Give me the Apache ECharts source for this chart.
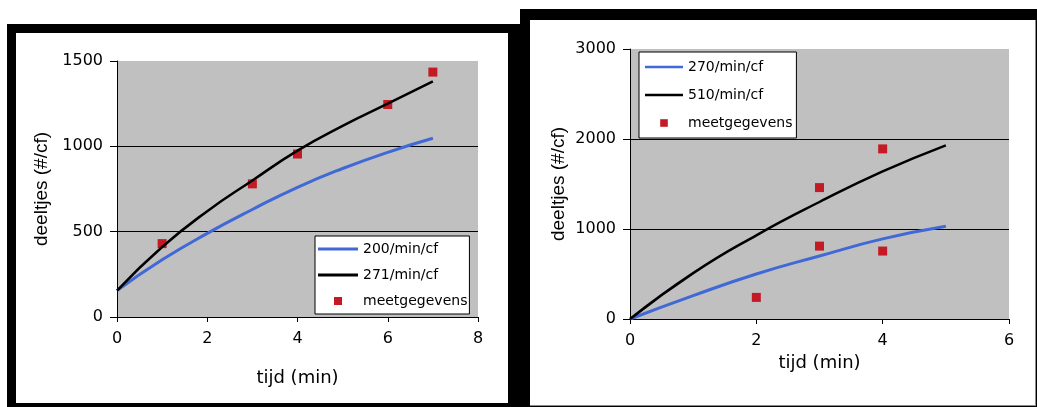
<!DOCTYPE html>
<html>
<head>
<meta charset="utf-8">
<script src="https://cdn.jsdelivr.net/npm/echarts@6/dist/echarts.min.js"></script>
<style>
  html, body { margin: 0; padding: 0; background: #fff; }
  .blk { position: absolute; }
  #main { position: absolute; left: 0; top: 0; width: 1037px; height: 407px; }
</style>
</head>
<body>
<!-- zwarte kaders rond de twee grafieken -->
<div class="blk" style="left:7px;top:24px;width:513px;height:383px;background:#000"></div>
<div class="blk" style="left:16px;top:33px;width:492px;height:370px;background:#fff"></div>
<div class="blk" style="left:520px;top:9px;width:517px;height:398px;background:#000"></div>
<div class="blk" style="left:530px;top:20px;width:506px;height:386px;background:#8a8a8a"></div>
<div class="blk" style="left:530px;top:20px;width:505px;height:385px;background:#fff"></div>
<div id="main"></div>
<script>
// links: 200 en 271 /min/cf
var tijdLinks = [0, 1, 2, 3, 4, 5, 6, 7];
var lijn200 = [155, 335, 490, 630, 760, 870, 965, 1047];
var lijn271 = [155, 410, 620, 800, 975, 1120, 1250, 1380];
var meetLinksX = [1, 3, 4, 6, 7];
var meetLinksY = [430, 780, 955, 1245, 1435];

// rechts: 270 en 510 /min/cf
var tijdRechts = [0, 1, 2, 3, 4, 5];
var lijn270 = [0, 260, 500, 700, 890, 1030];
var lijn510 = [0, 510, 930, 1300, 1640, 1930];
var meetRechtsX = [2, 3, 3, 4, 4];
var meetRechtsY = [240, 1460, 810, 1890, 755];

var namen = ['200/min/cf', '271/min/cf', '270/min/cf', '510/min/cf', 'meetgegevens'];

var blauw = '#4169d6';
var rood = '#c41a26';
var grijs = '#c0c0c0';
var font = 'DejaVu Sans';

function paren(xs, ys) {
    return xs.map(function(x, i) { return [x, ys[i]]; });
}

function kaal(v) {
    return String(v);   // geen duizendtal-scheiding
}

function xAs(idx, max, gap) {
    return {
        gridIndex: idx, type: 'value', min: 0, max: max, interval: 2,
        name: 'tijd (min)', nameLocation: 'middle', nameGap: gap,
        nameTextStyle: { fontFamily: font, fontSize: 18, color: '#000' },
        axisLine: { lineStyle: { color: '#000', width: 1 } },
        axisTick: { show: true, length: 5, lineStyle: { color: '#000' } },
        axisLabel: { fontFamily: font, fontSize: 16, color: '#000', margin: 14, formatter: kaal },
        splitLine: { show: false }
    };
}

function yAs(idx, max, interval, gap) {
    return {
        gridIndex: idx, type: 'value', min: 0, max: max, interval: interval,
        name: 'deeltjes (#/cf)', nameLocation: 'middle', nameGap: gap, nameRotate: 90,
        nameTextStyle: { fontFamily: 'Liberation Sans', fontSize: 19, color: '#000' },
        axisLine: { show: true, lineStyle: { color: '#000', width: 1 } },
        axisTick: { show: true, length: 7, lineStyle: { color: '#000' } },
        axisLabel: { fontFamily: font, fontSize: 16, color: '#000', margin: 14, formatter: kaal },
        splitLine: { show: true, lineStyle: { color: ['#000', '#000', '#000', grijs], width: 1 } }
    };
}

// iconen met breed kader: een streep voor de lijnen, een vierkantje voor de metingen
var vierkant = 'path://M0,0 M40,8 M16,0 L24,0 L24,8 L16,8 Z';
var streep = 'path://M0,0 M40,8 M0,2.6 L40,2.6 L40,5.4 L0,5.4 Z';

function legenda(left, top, items, breedte, gap, pad) {
    return {
        orient: 'vertical', left: left, top: top,
        data: items.map(function(n) {
            return { name: n, icon: n === 'meetgegevens' ? vierkant : streep };
        }),
        itemWidth: breedte, itemHeight: 8, itemGap: gap,
        padding: pad,
        backgroundColor: '#fff', borderColor: '#000', borderWidth: 1,
        textStyle: { fontFamily: font, fontSize: 14, color: '#000', lineHeight: 16 },
        selectedMode: false
    };
}

var chart = echarts.init(document.getElementById('main'), null, { renderer: 'canvas' });

chart.setOption({
    animation: false,
    backgroundColor: 'transparent',
    grid: [
        { left: 117, top: 61, width: 361, height: 256, show: true, backgroundColor: grijs, borderWidth: 0 },
        { left: 630, top: 49, width: 379, height: 270, show: true, backgroundColor: grijs, borderWidth: 0 }
    ],
    xAxis: [xAs(0, 8, 52), xAs(1, 6, 32)],
    yAxis: [yAs(0, 1500, 500, 66), yAs(1, 3000, 1000, 62)],
    legend: [
        legenda(315, 236, [namen[0], namen[1], namen[4]], 40, 10, [5, 2, 5, 3]),
        legenda(639, 52, [namen[2], namen[3], namen[4]], 38, 12, [7, 4, 7, 6])
    ],
    series: [
        { name: namen[0], type: 'line', xAxisIndex: 0, yAxisIndex: 0, smooth: true, symbol: 'none',
          lineStyle: { color: blauw, width: 3 }, itemStyle: { color: blauw }, data: paren(tijdLinks, lijn200) },
        { name: namen[1], type: 'line', xAxisIndex: 0, yAxisIndex: 0, smooth: true, symbol: 'none',
          lineStyle: { color: '#000', width: 2.5 }, itemStyle: { color: '#000' }, data: paren(tijdLinks, lijn271) },
        { name: namen[4], type: 'scatter', xAxisIndex: 0, yAxisIndex: 0, symbol: 'rect', symbolSize: 9,
          itemStyle: { color: rood, opacity: 1 }, data: paren(meetLinksX, meetLinksY) },
        { name: namen[2], type: 'line', xAxisIndex: 1, yAxisIndex: 1, smooth: true, symbol: 'none',
          lineStyle: { color: blauw, width: 3 }, itemStyle: { color: blauw }, data: paren(tijdRechts, lijn270) },
        { name: namen[3], type: 'line', xAxisIndex: 1, yAxisIndex: 1, smooth: true, symbol: 'none',
          lineStyle: { color: '#000', width: 2.5 }, itemStyle: { color: '#000' }, data: paren(tijdRechts, lijn510) },
        { name: namen[4], type: 'scatter', xAxisIndex: 1, yAxisIndex: 1, symbol: 'rect', symbolSize: 9,
          itemStyle: { color: rood, opacity: 1 }, data: paren(meetRechtsX, meetRechtsY) }
    ]
});
</script>
</body>
</html>
